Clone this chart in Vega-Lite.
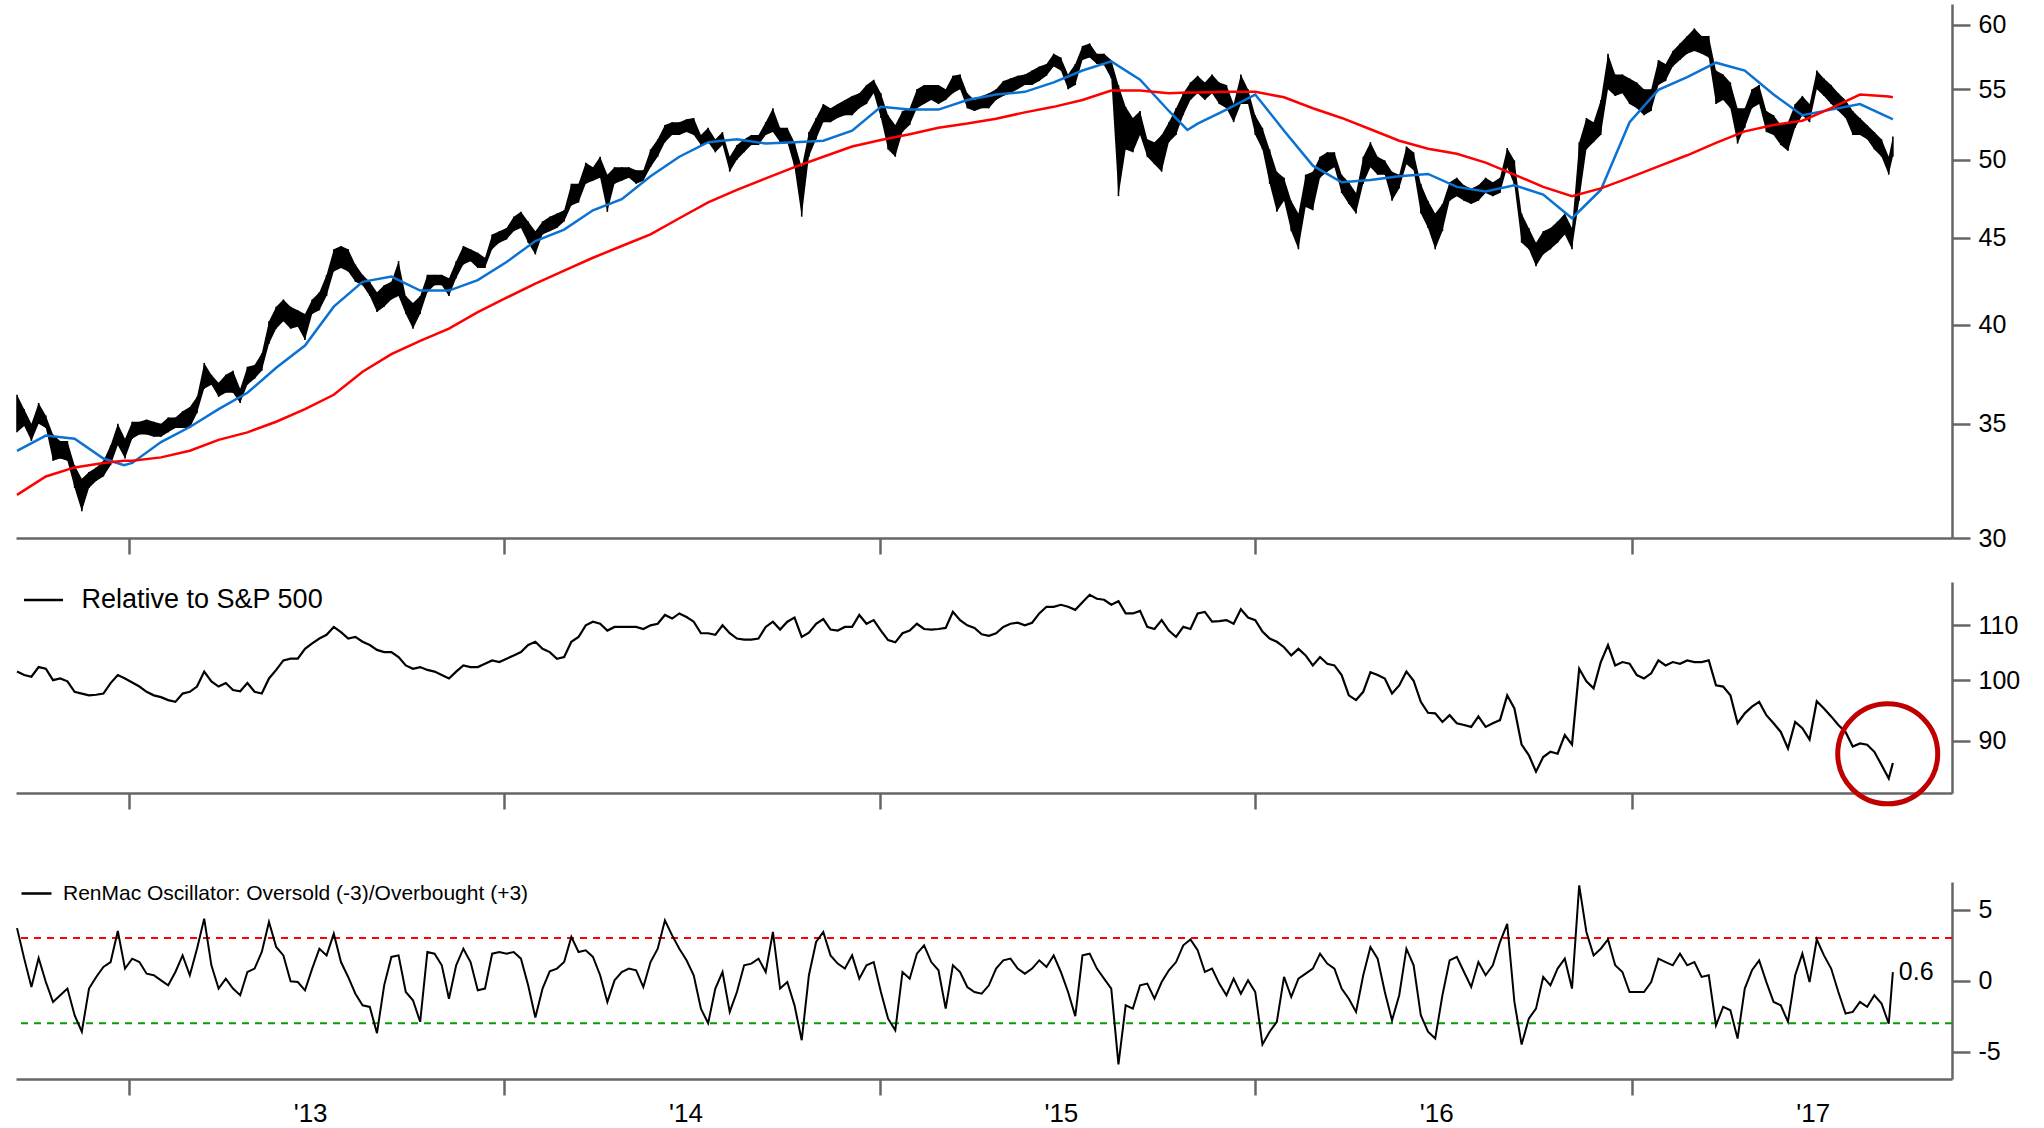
{
"$schema": "https://vega.github.io/schema/vega-lite/v6.json",
"padding": {"left": 12, "top": 4, "right": 5, "bottom": 0},
"config": {"view": {"stroke": null}, "font": "Liberation Sans",
  "axis": {"domainColor": "#666666", "domainWidth": 2.5, "tickColor": "#666666", "tickWidth": 2.5, "grid": false, "labelColor": "#000000", "labelFont": "Liberation Sans"},
  "legend": {"labelFont": "Liberation Sans"}},
"datasets": {
"w": [
{"d":"2012-09-14","l":34.6,"h":36.4,"r":101.5,"o":3.7},
{"d":"2012-09-21","l":34.9,"h":35.7,"r":100.9,"o":1.55},
{"d":"2012-09-28","l":34.2,"h":35.0,"r":100.6,"o":-0.45},
{"d":"2012-10-05","l":35.0,"h":36.0,"r":102.3,"o":1.6},
{"d":"2012-10-12","l":34.8,"h":35.4,"r":102.0,"o":-0.1},
{"d":"2012-10-19","l":33.3,"h":34.5,"r":100.0,"o":-1.5},
{"d":"2012-10-26","l":33.4,"h":34.2,"r":100.3,"o":-1.03},
{"d":"2012-11-02","l":33.3,"h":34.2,"r":99.8,"o":-0.56},
{"d":"2012-11-09","l":32.1,"h":33.1,"r":98.0,"o":-2.44},
{"d":"2012-11-16","l":31.1,"h":32.5,"r":97.7,"o":-3.6},
{"d":"2012-11-23","l":32.1,"h":32.8,"r":97.4,"o":-0.56},
{"d":"2012-11-30","l":32.4,"h":33.0,"r":97.5,"o":0.26},
{"d":"2012-12-07","l":32.6,"h":33.3,"r":97.7,"o":0.96},
{"d":"2012-12-14","l":33.1,"h":34.0,"r":99.5,"o":1.31},
{"d":"2012-12-21","l":34.0,"h":35.0,"r":100.9,"o":3.5},
{"d":"2012-12-28","l":33.4,"h":34.3,"r":100.3,"o":0.85},
{"d":"2013-01-04","l":34.3,"h":35.1,"r":99.6,"o":1.55},
{"d":"2013-01-11","l":34.5,"h":35.1,"r":98.9,"o":1.31},
{"d":"2013-01-18","l":34.5,"h":35.2,"r":98.0,"o":0.49},
{"d":"2013-01-25","l":34.4,"h":35.1,"r":97.4,"o":0.38},
{"d":"2013-02-01","l":34.4,"h":35.0,"r":97.1,"o":0.02},
{"d":"2013-02-08","l":34.6,"h":35.3,"r":96.6,"o":-0.33},
{"d":"2013-02-15","l":34.8,"h":35.3,"r":96.3,"o":0.61},
{"d":"2013-02-22","l":34.8,"h":35.6,"r":97.7,"o":1.78},
{"d":"2013-03-01","l":34.8,"h":35.8,"r":98.0,"o":0.38},
{"d":"2013-03-08","l":35.5,"h":36.3,"r":98.9,"o":2.25},
{"d":"2013-03-15","l":36.7,"h":38.0,"r":101.5,"o":4.37},
{"d":"2013-03-22","l":36.9,"h":37.4,"r":99.8,"o":1.08},
{"d":"2013-03-29","l":36.3,"h":37.0,"r":98.9,"o":-0.56},
{"d":"2013-04-05","l":36.5,"h":37.4,"r":99.5,"o":0.14},
{"d":"2013-04-12","l":36.5,"h":37.6,"r":98.3,"o":-0.56},
{"d":"2013-04-19","l":36.0,"h":36.7,"r":98.1,"o":-1.03},
{"d":"2013-04-26","l":36.9,"h":37.8,"r":99.5,"o":0.61},
{"d":"2013-05-03","l":37.2,"h":37.9,"r":98.0,"o":0.85},
{"d":"2013-05-10","l":37.6,"h":38.5,"r":97.7,"o":2.02},
{"d":"2013-05-17","l":39.0,"h":40.2,"r":100.3,"o":4.13},
{"d":"2013-05-24","l":39.8,"h":41.0,"r":101.8,"o":2.37},
{"d":"2013-05-31","l":40.2,"h":41.4,"r":103.5,"o":1.78},
{"d":"2013-06-07","l":39.8,"h":41.0,"r":103.8,"o":-0.05},
{"d":"2013-06-14","l":39.9,"h":40.8,"r":103.8,"o":-0.1},
{"d":"2013-06-21","l":39.2,"h":40.6,"r":105.6,"o":-0.68},
{"d":"2013-06-28","l":40.6,"h":41.4,"r":106.6,"o":0.85},
{"d":"2013-07-05","l":40.8,"h":41.8,"r":107.5,"o":2.25},
{"d":"2013-07-12","l":41.6,"h":42.8,"r":108.2,"o":1.78},
{"d":"2013-07-19","l":43.0,"h":44.3,"r":109.7,"o":3.31},
{"d":"2013-07-26","l":43.2,"h":44.5,"r":108.7,"o":1.31},
{"d":"2013-08-02","l":43.0,"h":44.3,"r":107.5,"o":0.26},
{"d":"2013-08-09","l":42.4,"h":43.4,"r":107.8,"o":-0.92},
{"d":"2013-08-16","l":42.2,"h":42.8,"r":106.9,"o":-1.74},
{"d":"2013-08-23","l":41.6,"h":42.4,"r":106.3,"o":-1.85},
{"d":"2013-08-30","l":40.7,"h":41.8,"r":105.4,"o":-3.7},
{"d":"2013-09-06","l":41.0,"h":42.2,"r":105.0,"o":-0.33},
{"d":"2013-09-13","l":41.4,"h":42.4,"r":105.0,"o":1.67},
{"d":"2013-09-20","l":41.6,"h":43.6,"r":104.1,"o":1.78},
{"d":"2013-09-27","l":40.6,"h":41.6,"r":102.6,"o":-0.8},
{"d":"2013-10-04","l":39.8,"h":41.2,"r":102.0,"o":-1.38},
{"d":"2013-10-11","l":40.6,"h":41.6,"r":102.3,"o":-2.9},
{"d":"2013-10-18","l":41.8,"h":42.8,"r":101.8,"o":2.02},
{"d":"2013-10-25","l":42.2,"h":42.8,"r":101.5,"o":1.9},
{"d":"2013-11-01","l":42.2,"h":42.8,"r":100.9,"o":1.08},
{"d":"2013-11-08","l":41.6,"h":42.6,"r":100.3,"o":-1.27},
{"d":"2013-11-15","l":42.6,"h":43.6,"r":101.5,"o":1.08},
{"d":"2013-11-22","l":43.4,"h":44.5,"r":102.6,"o":2.25},
{"d":"2013-11-29","l":43.6,"h":44.3,"r":102.3,"o":1.31},
{"d":"2013-12-06","l":43.2,"h":44.1,"r":102.3,"o":-0.68},
{"d":"2013-12-13","l":43.2,"h":43.8,"r":102.9,"o":-0.56},
{"d":"2013-12-20","l":44.3,"h":45.2,"r":103.5,"o":1.9},
{"d":"2013-12-27","l":44.7,"h":45.4,"r":103.2,"o":2.02},
{"d":"2014-01-03","l":44.9,"h":45.6,"r":103.8,"o":1.9},
{"d":"2014-01-10","l":45.4,"h":46.3,"r":104.4,"o":2.02},
{"d":"2014-01-17","l":45.6,"h":46.6,"r":105.0,"o":1.55},
{"d":"2014-01-24","l":44.7,"h":46.0,"r":106.3,"o":-0.33},
{"d":"2014-01-31","l":44.0,"h":45.4,"r":106.9,"o":-2.6},
{"d":"2014-02-07","l":45.2,"h":46.0,"r":105.6,"o":-0.56},
{"d":"2014-02-14","l":45.4,"h":46.3,"r":105.0,"o":0.66},
{"d":"2014-02-21","l":45.6,"h":46.5,"r":103.8,"o":0.85},
{"d":"2014-02-28","l":46.0,"h":46.7,"r":104.1,"o":1.31},
{"d":"2014-03-07","l":47.0,"h":48.4,"r":106.9,"o":3.08},
{"d":"2014-03-14","l":47.2,"h":48.4,"r":107.8,"o":2.02},
{"d":"2014-03-21","l":48.4,"h":49.8,"r":110.0,"o":2.14},
{"d":"2014-03-28","l":48.6,"h":49.5,"r":110.7,"o":1.67},
{"d":"2014-04-04","l":48.8,"h":50.2,"r":110.3,"o":0.38},
{"d":"2014-04-11","l":46.6,"h":49.0,"r":109.0,"o":-1.5},
{"d":"2014-04-18","l":48.4,"h":49.5,"r":109.7,"o":0.02},
{"d":"2014-04-25","l":48.6,"h":49.5,"r":109.7,"o":0.61},
{"d":"2014-05-02","l":48.8,"h":49.5,"r":109.7,"o":0.85},
{"d":"2014-05-09","l":48.4,"h":49.3,"r":109.7,"o":0.73},
{"d":"2014-05-16","l":48.6,"h":49.3,"r":109.3,"o":-0.45},
{"d":"2014-05-23","l":49.5,"h":50.7,"r":110.0,"o":1.31},
{"d":"2014-05-30","l":50.2,"h":51.4,"r":110.3,"o":2.25},
{"d":"2014-06-06","l":51.2,"h":52.4,"r":112.0,"o":4.25},
{"d":"2014-06-13","l":51.7,"h":52.6,"r":111.3,"o":3.19},
{"d":"2014-06-20","l":51.7,"h":52.6,"r":112.3,"o":2.25},
{"d":"2014-06-27","l":51.9,"h":52.8,"r":111.6,"o":1.43},
{"d":"2014-07-04","l":51.7,"h":52.9,"r":110.7,"o":0.38},
{"d":"2014-07-11","l":51.0,"h":51.7,"r":108.5,"o":-1.97},
{"d":"2014-07-18","l":51.2,"h":52.2,"r":108.5,"o":-3.0},
{"d":"2014-07-25","l":50.5,"h":51.4,"r":108.2,"o":-0.56},
{"d":"2014-08-01","l":51.0,"h":51.9,"r":110.0,"o":0.61},
{"d":"2014-08-08","l":49.2,"h":50.2,"r":108.5,"o":-2.2},
{"d":"2014-08-15","l":50.0,"h":51.0,"r":107.5,"o":-0.8},
{"d":"2014-08-22","l":50.5,"h":51.4,"r":107.3,"o":1.08},
{"d":"2014-08-29","l":51.0,"h":51.7,"r":107.3,"o":1.2},
{"d":"2014-09-05","l":51.0,"h":51.7,"r":107.5,"o":1.55},
{"d":"2014-09-12","l":51.7,"h":52.6,"r":109.7,"o":0.61},
{"d":"2014-09-19","l":51.9,"h":53.6,"r":110.7,"o":3.43},
{"d":"2014-09-26","l":51.2,"h":52.2,"r":109.2,"o":-0.56},
{"d":"2014-10-03","l":51.2,"h":52.2,"r":110.7,"o":-0.1},
{"d":"2014-10-10","l":49.5,"h":51.2,"r":111.5,"o":-1.74},
{"d":"2014-10-17","l":46.3,"h":49.5,"r":107.8,"o":-4.2},
{"d":"2014-10-24","l":50.2,"h":51.9,"r":108.6,"o":0.38},
{"d":"2014-10-31","l":51.4,"h":52.9,"r":110.3,"o":2.72},
{"d":"2014-11-07","l":52.6,"h":53.9,"r":111.2,"o":3.43},
{"d":"2014-11-14","l":52.6,"h":53.6,"r":109.2,"o":1.78},
{"d":"2014-11-21","l":52.9,"h":53.9,"r":109.0,"o":1.2},
{"d":"2014-11-28","l":53.1,"h":54.2,"r":109.7,"o":0.85},
{"d":"2014-12-05","l":53.1,"h":54.5,"r":109.7,"o":1.78},
{"d":"2014-12-12","l":53.6,"h":54.7,"r":112.0,"o":0.14},
{"d":"2014-12-19","l":53.9,"h":55.3,"r":110.3,"o":1.08},
{"d":"2014-12-26","l":54.7,"h":55.7,"r":111.0,"o":1.31},
{"d":"2015-01-02","l":52.9,"h":54.7,"r":109.0,"o":-0.8},
{"d":"2015-01-09","l":50.7,"h":53.1,"r":107.2,"o":-2.68},
{"d":"2015-01-16","l":50.2,"h":52.4,"r":106.8,"o":-3.5},
{"d":"2015-01-23","l":51.9,"h":53.4,"r":108.5,"o":0.61},
{"d":"2015-01-30","l":52.4,"h":53.6,"r":109.0,"o":0.14},
{"d":"2015-02-06","l":53.6,"h":55.0,"r":110.3,"o":1.9},
{"d":"2015-02-13","l":53.9,"h":55.3,"r":109.3,"o":2.49},
{"d":"2015-02-20","l":54.2,"h":55.3,"r":109.2,"o":1.31},
{"d":"2015-02-27","l":53.9,"h":55.3,"r":109.3,"o":0.73},
{"d":"2015-03-06","l":54.2,"h":55.0,"r":109.5,"o":-1.97},
{"d":"2015-03-13","l":54.7,"h":56.0,"r":112.6,"o":1.08},
{"d":"2015-03-20","l":55.0,"h":56.1,"r":111.0,"o":0.61},
{"d":"2015-03-27","l":53.6,"h":54.7,"r":110.0,"o":-0.45},
{"d":"2015-04-03","l":53.4,"h":54.2,"r":109.5,"o":-0.8},
{"d":"2015-04-10","l":53.6,"h":54.5,"r":108.3,"o":-0.92},
{"d":"2015-04-17","l":53.6,"h":54.7,"r":108.0,"o":-0.33},
{"d":"2015-04-24","l":54.2,"h":55.0,"r":108.5,"o":0.85},
{"d":"2015-05-01","l":54.5,"h":55.6,"r":109.7,"o":1.43},
{"d":"2015-05-08","l":54.7,"h":55.8,"r":110.3,"o":1.55},
{"d":"2015-05-15","l":55.0,"h":56.0,"r":110.5,"o":0.85},
{"d":"2015-05-22","l":55.3,"h":56.1,"r":110.0,"o":0.49},
{"d":"2015-05-29","l":55.3,"h":56.4,"r":110.5,"o":0.85},
{"d":"2015-06-05","l":55.6,"h":56.7,"r":112.3,"o":1.43},
{"d":"2015-06-12","l":56.0,"h":56.9,"r":113.6,"o":0.96},
{"d":"2015-06-19","l":56.7,"h":57.7,"r":113.6,"o":1.78},
{"d":"2015-06-26","l":56.4,"h":57.4,"r":114.0,"o":0.61},
{"d":"2015-07-03","l":55.0,"h":56.1,"r":113.6,"o":-0.8},
{"d":"2015-07-10","l":55.3,"h":56.9,"r":113.0,"o":-2.5},
{"d":"2015-07-17","l":57.2,"h":58.3,"r":114.5,"o":1.78},
{"d":"2015-07-24","l":57.4,"h":58.5,"r":116.0,"o":1.9},
{"d":"2015-07-31","l":56.9,"h":57.7,"r":115.2,"o":0.85},
{"d":"2015-08-07","l":56.8,"h":57.7,"r":115.0,"o":0.14},
{"d":"2015-08-14","l":55.8,"h":57.2,"r":114.0,"o":-0.56},
{"d":"2015-08-21","l":47.6,"h":55.3,"r":114.7,"o":-5.9},
{"d":"2015-08-28","l":50.7,"h":53.7,"r":112.3,"o":-1.74},
{"d":"2015-09-04","l":50.5,"h":52.9,"r":112.3,"o":-1.97},
{"d":"2015-09-11","l":51.7,"h":53.4,"r":112.8,"o":-0.33},
{"d":"2015-09-18","l":50.2,"h":51.4,"r":109.7,"o":-0.21},
{"d":"2015-09-25","l":49.7,"h":51.2,"r":109.3,"o":-1.27},
{"d":"2015-10-02","l":49.2,"h":51.7,"r":111.0,"o":-0.1},
{"d":"2015-10-09","l":51.2,"h":52.6,"r":109.0,"o":0.73},
{"d":"2015-10-16","l":51.7,"h":53.6,"r":107.8,"o":1.31},
{"d":"2015-10-23","l":53.1,"h":54.7,"r":109.7,"o":2.49},
{"d":"2015-10-30","l":54.2,"h":55.5,"r":109.3,"o":2.9},
{"d":"2015-11-06","l":54.7,"h":56.0,"r":112.3,"o":2.14},
{"d":"2015-11-13","l":54.2,"h":55.5,"r":112.6,"o":0.61},
{"d":"2015-11-20","l":54.7,"h":56.1,"r":110.7,"o":0.85},
{"d":"2015-11-27","l":53.9,"h":55.5,"r":110.8,"o":-0.21},
{"d":"2015-12-04","l":53.6,"h":55.3,"r":111.0,"o":-1.03},
{"d":"2015-12-11","l":52.6,"h":53.9,"r":110.3,"o":0.14},
{"d":"2015-12-18","l":53.9,"h":56.1,"r":113.1,"o":-0.92},
{"d":"2015-12-25","l":53.9,"h":55.0,"r":111.5,"o":0.02},
{"d":"2016-01-01","l":51.7,"h":53.1,"r":111.0,"o":-0.8},
{"d":"2016-01-08","l":50.7,"h":52.2,"r":108.8,"o":-4.5},
{"d":"2016-01-15","l":48.4,"h":50.7,"r":107.5,"o":-3.6},
{"d":"2016-01-22","l":46.6,"h":49.2,"r":106.9,"o":-2.9},
{"d":"2016-01-29","l":47.3,"h":48.8,"r":105.9,"o":0.26},
{"d":"2016-02-05","l":45.4,"h":47.3,"r":104.4,"o":-1.15},
{"d":"2016-02-12","l":44.3,"h":46.5,"r":105.6,"o":0.14},
{"d":"2016-02-19","l":46.9,"h":49.0,"r":104.4,"o":0.49},
{"d":"2016-02-26","l":46.7,"h":49.2,"r":102.6,"o":0.85},
{"d":"2016-03-04","l":48.8,"h":50.2,"r":104.1,"o":1.9},
{"d":"2016-03-11","l":49.2,"h":50.5,"r":102.9,"o":1.2},
{"d":"2016-03-18","l":49.5,"h":50.5,"r":102.6,"o":0.85},
{"d":"2016-03-25","l":47.8,"h":49.0,"r":100.9,"o":-0.56},
{"d":"2016-04-01","l":47.1,"h":48.5,"r":97.4,"o":-1.27},
{"d":"2016-04-08","l":46.5,"h":47.8,"r":96.6,"o":-2.2},
{"d":"2016-04-15","l":48.4,"h":50.2,"r":98.0,"o":0.38},
{"d":"2016-04-22","l":49.5,"h":51.2,"r":101.4,"o":2.37},
{"d":"2016-04-29","l":49.0,"h":50.2,"r":100.9,"o":1.55},
{"d":"2016-05-06","l":49.0,"h":49.95,"r":100.3,"o":-0.8},
{"d":"2016-05-13","l":47.3,"h":49.2,"r":97.7,"o":-2.8},
{"d":"2016-05-20","l":48.1,"h":49.0,"r":99.1,"o":-1.03},
{"d":"2016-05-27","l":49.7,"h":50.9,"r":101.5,"o":2.25},
{"d":"2016-06-03","l":49.3,"h":50.5,"r":99.9,"o":1.08},
{"d":"2016-06-10","l":46.5,"h":48.4,"r":96.3,"o":-2.44},
{"d":"2016-06-17","l":45.6,"h":47.3,"r":94.5,"o":-3.6},
{"d":"2016-06-24","l":44.3,"h":46.5,"r":94.4,"o":-4.08},
{"d":"2016-07-01","l":45.4,"h":47.1,"r":93.0,"o":-1.03},
{"d":"2016-07-08","l":47.3,"h":48.5,"r":94.1,"o":1.43},
{"d":"2016-07-15","l":47.6,"h":48.8,"r":92.8,"o":1.67},
{"d":"2016-07-22","l":47.3,"h":48.3,"r":92.5,"o":0.61},
{"d":"2016-07-29","l":47.1,"h":48.1,"r":92.2,"o":-0.45},
{"d":"2016-08-05","l":47.3,"h":48.3,"r":93.9,"o":1.31},
{"d":"2016-08-12","l":47.8,"h":48.8,"r":92.2,"o":0.38},
{"d":"2016-08-19","l":47.6,"h":48.5,"r":92.8,"o":1.08},
{"d":"2016-08-26","l":47.8,"h":48.8,"r":93.3,"o":2.72},
{"d":"2016-09-02","l":49.5,"h":50.8,"r":97.4,"o":4.0},
{"d":"2016-09-09","l":48.3,"h":49.95,"r":95.2,"o":-1.5},
{"d":"2016-09-16","l":44.7,"h":46.5,"r":89.4,"o":-4.5},
{"d":"2016-09-23","l":44.3,"h":45.6,"r":87.8,"o":-2.68},
{"d":"2016-09-30","l":43.3,"h":44.7,"r":85.3,"o":-1.97},
{"d":"2016-10-07","l":44.0,"h":45.4,"r":87.5,"o":0.26},
{"d":"2016-10-14","l":44.3,"h":45.6,"r":88.3,"o":-0.33},
{"d":"2016-10-21","l":44.7,"h":46.0,"r":88.0,"o":0.85},
{"d":"2016-10-28","l":45.2,"h":46.5,"r":90.9,"o":1.55},
{"d":"2016-11-04","l":44.3,"h":45.6,"r":89.4,"o":-0.56},
{"d":"2016-11-11","l":47.3,"h":51.2,"r":102.0,"o":6.71},
{"d":"2016-11-18","l":50.7,"h":52.9,"r":99.8,"o":3.43},
{"d":"2016-11-25","l":51.2,"h":52.6,"r":98.6,"o":1.78},
{"d":"2016-12-02","l":51.7,"h":54.2,"r":103.2,"o":2.25},
{"d":"2016-12-09","l":55.0,"h":57.7,"r":106.3,"o":2.9},
{"d":"2016-12-16","l":54.5,"h":56.1,"r":102.6,"o":1.08},
{"d":"2016-12-23","l":54.7,"h":56.1,"r":103.2,"o":0.61},
{"d":"2016-12-30","l":53.9,"h":55.8,"r":102.9,"o":-0.8},
{"d":"2017-01-06","l":53.6,"h":55.5,"r":100.9,"o":-0.8},
{"d":"2017-01-13","l":53.1,"h":55.0,"r":100.3,"o":-0.8},
{"d":"2017-01-20","l":53.4,"h":55.0,"r":101.2,"o":-0.1},
{"d":"2017-01-27","l":55.3,"h":57.2,"r":103.5,"o":1.55},
{"d":"2017-02-03","l":55.6,"h":56.9,"r":102.6,"o":1.31},
{"d":"2017-02-10","l":56.7,"h":57.9,"r":103.2,"o":1.08},
{"d":"2017-02-17","l":57.2,"h":58.5,"r":102.9,"o":1.9},
{"d":"2017-02-24","l":57.7,"h":59.1,"r":103.5,"o":1.08},
{"d":"2017-03-03","l":57.9,"h":59.7,"r":103.2,"o":1.31},
{"d":"2017-03-10","l":57.7,"h":59.1,"r":103.2,"o":0.26},
{"d":"2017-03-17","l":57.4,"h":59.1,"r":103.5,"o":0.38},
{"d":"2017-03-24","l":53.9,"h":56.4,"r":99.1,"o":-3.15},
{"d":"2017-03-31","l":54.2,"h":56.1,"r":98.9,"o":-1.85},
{"d":"2017-04-07","l":53.6,"h":55.5,"r":97.4,"o":-2.09},
{"d":"2017-04-14","l":51.1,"h":53.6,"r":92.8,"o":-4.08},
{"d":"2017-04-21","l":52.2,"h":53.6,"r":94.4,"o":-0.56},
{"d":"2017-04-28","l":53.6,"h":55.0,"r":95.5,"o":0.73},
{"d":"2017-05-05","l":53.9,"h":55.3,"r":96.3,"o":1.43},
{"d":"2017-05-12","l":51.9,"h":53.4,"r":94.1,"o":-0.1},
{"d":"2017-05-19","l":51.7,"h":53.1,"r":92.8,"o":-1.5},
{"d":"2017-05-26","l":51.0,"h":52.4,"r":91.4,"o":-1.74},
{"d":"2017-06-02","l":50.6,"h":52.6,"r":88.8,"o":-2.9},
{"d":"2017-06-09","l":52.2,"h":53.9,"r":93.0,"o":0.38},
{"d":"2017-06-16","l":53.1,"h":54.5,"r":92.0,"o":1.9},
{"d":"2017-06-23","l":52.6,"h":53.9,"r":90.2,"o":-0.1},
{"d":"2017-06-30","l":55.0,"h":56.4,"r":96.4,"o":2.9},
{"d":"2017-07-07","l":54.5,"h":55.8,"r":95.2,"o":1.78},
{"d":"2017-07-14","l":53.9,"h":55.3,"r":93.9,"o":0.85},
{"d":"2017-07-21","l":53.4,"h":54.7,"r":92.5,"o":-0.8},
{"d":"2017-07-28","l":52.9,"h":54.2,"r":91.4,"o":-2.32},
{"d":"2017-08-04","l":51.7,"h":53.4,"r":89.1,"o":-2.2},
{"d":"2017-08-11","l":51.7,"h":52.9,"r":89.6,"o":-1.5},
{"d":"2017-08-18","l":51.4,"h":52.4,"r":89.4,"o":-1.85},
{"d":"2017-08-25","l":50.7,"h":51.9,"r":88.3,"o":-1.03},
{"d":"2017-09-01","l":50.2,"h":51.4,"r":86.3,"o":-1.62},
{"d":"2017-09-08","l":49.0,"h":50.2,"r":84.3,"o":-3.03},
{"d":"2017-09-12","l":50.2,"h":51.6,"r":86.6,"o":0.6}
],
"ma": [
{"d":"2012-09-14","m50":33.75,"m200":31.8},
{"d":"2012-10-12","m50":34.45,"m200":32.6},
{"d":"2012-11-09","m50":34.3,"m200":33.0},
{"d":"2012-12-07","m50":33.4,"m200":33.2},
{"d":"2012-12-27","m50":33.1,"m200":33.3},
{"d":"2013-01-04","m50":33.2,"m200":33.3},
{"d":"2013-02-01","m50":34.15,"m200":33.45},
{"d":"2013-03-01","m50":34.85,"m200":33.75},
{"d":"2013-03-29","m50":35.7,"m200":34.25},
{"d":"2013-04-26","m50":36.5,"m200":34.6},
{"d":"2013-05-24","m50":37.75,"m200":35.1},
{"d":"2013-06-21","m50":38.9,"m200":35.7},
{"d":"2013-07-19","m50":41.0,"m200":36.4},
{"d":"2013-08-16","m50":42.4,"m200":37.55},
{"d":"2013-09-13","m50":42.7,"m200":38.45},
{"d":"2013-10-11","m50":41.9,"m200":39.15},
{"d":"2013-11-08","m50":41.9,"m200":39.8},
{"d":"2013-12-06","m50":42.5,"m200":40.7},
{"d":"2014-01-03","m50":43.55,"m200":41.5},
{"d":"2014-01-31","m50":44.8,"m200":42.3},
{"d":"2014-02-28","m50":45.5,"m200":43.05},
{"d":"2014-03-28","m50":46.7,"m200":43.8},
{"d":"2014-04-25","m50":47.4,"m200":44.5},
{"d":"2014-05-23","m50":48.9,"m200":45.2},
{"d":"2014-06-20","m50":50.2,"m200":46.2},
{"d":"2014-07-18","m50":51.2,"m200":47.2},
{"d":"2014-08-15","m50":51.4,"m200":48.0},
{"d":"2014-09-12","m50":51.1,"m200":48.75},
{"d":"2014-10-10","m50":51.2,"m200":49.5},
{"d":"2014-11-07","m50":51.3,"m200":50.2},
{"d":"2014-12-05","m50":52.0,"m200":50.9},
{"d":"2015-01-02","m50":53.7,"m200":51.35},
{"d":"2015-01-30","m50":53.5,"m200":51.75},
{"d":"2015-02-27","m50":53.5,"m200":52.2},
{"d":"2015-03-27","m50":54.2,"m200":52.5},
{"d":"2015-04-24","m50":54.6,"m200":52.85},
{"d":"2015-05-22","m50":54.8,"m200":53.3},
{"d":"2015-06-19","m50":55.5,"m200":53.7},
{"d":"2015-07-17","m50":56.4,"m200":54.2},
{"d":"2015-08-14","m50":57.1,"m200":54.9},
{"d":"2015-09-11","m50":55.7,"m200":54.9},
{"d":"2015-10-09","m50":53.4,"m200":54.7},
{"d":"2015-10-27","m50":52.05,"m200":54.75},
{"d":"2015-11-06","m50":52.5,"m200":54.75},
{"d":"2015-12-04","m50":53.5,"m200":54.8},
{"d":"2016-01-01","m50":54.6,"m200":54.8},
{"d":"2016-01-29","m50":52.0,"m200":54.4},
{"d":"2016-02-26","m50":49.6,"m200":53.6},
{"d":"2016-03-25","m50":48.5,"m200":52.9},
{"d":"2016-04-22","m50":48.65,"m200":52.1},
{"d":"2016-05-20","m50":48.9,"m200":51.3},
{"d":"2016-06-17","m50":49.05,"m200":50.75},
{"d":"2016-07-15","m50":48.2,"m200":50.4},
{"d":"2016-08-12","m50":47.9,"m200":49.8},
{"d":"2016-09-09","m50":48.3,"m200":49.0},
{"d":"2016-10-07","m50":47.7,"m200":48.2},
{"d":"2016-11-04","m50":46.2,"m200":47.6},
{"d":"2016-12-02","m50":48.0,"m200":48.1},
{"d":"2016-12-30","m50":52.6,"m200":48.8},
{"d":"2017-01-27","m50":54.95,"m200":49.55},
{"d":"2017-02-24","m50":55.9,"m200":50.3},
{"d":"2017-03-24","m50":57.0,"m200":51.15},
{"d":"2017-04-21","m50":56.4,"m200":51.95},
{"d":"2017-05-19","m50":54.6,"m200":52.4},
{"d":"2017-06-16","m50":53.1,"m200":52.7},
{"d":"2017-07-14","m50":53.5,"m200":53.6},
{"d":"2017-08-11","m50":53.9,"m200":54.6},
{"d":"2017-09-08","m50":52.95,"m200":54.45},
{"d":"2017-09-12","m50":52.8,"m200":54.4}
],
"ann": [{"d":"2017-09-07","v":88}],
"lastpt": [{"d":"2017-09-12","o":0.6}],
"ob": [{"t":3}],
"os": [{"t":-3}]
},
"resolve": {"scale": {"stroke": "independent"}, "legend": {"stroke": "independent"}},
"spacing": 63,
"vconcat": [
{
"resolve": {"scale": {"stroke": "independent"}, "legend": {"stroke": "independent"}},
"spacing": 23,
"vconcat": [
{
"width": 1936, "height": 534,
"layer": [
{"data": {"name": "w"}, "mark": {"type": "area", "color": "#000000"},
 "encoding": {
  "x": {"field": "d", "type": "temporal", "scale": {"type": "utc", "nice": false, "domain": [{"year": 2012, "month": 9, "date": 13, "utc": true}, {"year": 2017, "month": 11, "date": 8, "hours": 12, "utc": true}]},
        "axis": {"title": null, "labels": false, "tickSize": 16, "values": [{"year": 2013, "month": 1, "date": 1, "utc": true}, {"year": 2014, "month": 1, "date": 1, "utc": true}, {"year": 2015, "month": 1, "date": 1, "utc": true}, {"year": 2016, "month": 1, "date": 1, "utc": true}, {"year": 2017, "month": 1, "date": 1, "utc": true}]}},
  "y": {"field": "l", "type": "quantitative", "scale": {"type": "log", "domain": [30, 61.7], "nice": false},
        "axis": {"orient": "right", "title": null, "values": [30, 35, 40, 45, 50, 55, 60], "tickSize": 18, "labelPadding": 8, "labelFontSize": 25, "labelExpr": "toString(datum.value)"}},
  "y2": {"field": "h"}}},
{"data": {"name": "w"}, "mark": {"type": "rule", "color": "#000000", "strokeWidth": 1.6},
 "encoding": {
  "x": {"field": "d", "type": "temporal"},
  "y": {"field": "l", "type": "quantitative", "scale": {"type": "log", "domain": [30, 61.7], "nice": false}},
  "y2": {"field": "h"}}},
{"data": {"name": "ma"}, "mark": {"type": "line", "color": "#0b72d1", "strokeWidth": 2.5},
 "encoding": {
  "x": {"field": "d", "type": "temporal"},
  "y": {"field": "m50", "type": "quantitative", "scale": {"type": "log", "domain": [30, 61.7], "nice": false}}}},
{"data": {"name": "ma"}, "mark": {"type": "line", "color": "#ff0000", "strokeWidth": 2.5},
 "encoding": {
  "x": {"field": "d", "type": "temporal"},
  "y": {"field": "m200", "type": "quantitative", "scale": {"type": "log", "domain": [30, 61.7], "nice": false}}}}
]
},
{
"width": 1936, "height": 211,
"layer": [
{"data": {"name": "w"}, "mark": {"type": "line", "strokeWidth": 2.2},
 "encoding": {
  "x": {"field": "d", "type": "temporal", "scale": {"type": "utc", "nice": false, "domain": [{"year": 2012, "month": 9, "date": 13, "utc": true}, {"year": 2017, "month": 11, "date": 8, "hours": 12, "utc": true}]},
        "axis": {"title": null, "labels": false, "tickSize": 16, "values": [{"year": 2013, "month": 1, "date": 1, "utc": true}, {"year": 2014, "month": 1, "date": 1, "utc": true}, {"year": 2015, "month": 1, "date": 1, "utc": true}, {"year": 2016, "month": 1, "date": 1, "utc": true}, {"year": 2017, "month": 1, "date": 1, "utc": true}]}},
  "y": {"field": "r", "type": "quantitative", "scale": {"type": "log", "domain": [82.2, 118.6], "nice": false},
        "axis": {"orient": "right", "title": null, "values": [90, 100, 110], "tickSize": 18, "labelPadding": 8, "labelFontSize": 25, "labelExpr": "toString(datum.value)"}},
  "stroke": {"datum": "Relative to S&P 500", "type": "nominal", "scale": {"range": ["#000000"]},
        "legend": {"orient": "none", "legendX": 6.5, "legendY": -3, "title": null, "padding": 0, "symbolType": "stroke", "symbolSize": 1521, "symbolStrokeWidth": 2.5, "labelFontSize": 27, "labelOffset": 17, "labelColor": "#000000", "labelLimit": 0}}}},
{"data": {"name": "ann"}, "mark": {"type": "point", "shape": "circle", "size": 10000, "filled": false, "strokeWidth": 5, "color": "#c00000", "opacity": 1},
 "encoding": {
  "x": {"field": "d", "type": "temporal"},
  "y": {"field": "v", "type": "quantitative", "scale": {"type": "log", "domain": [82.2, 118.6], "nice": false}}}}
]
}
]
},
{
"width": 1936, "height": 197,
"layer": [
{"data": {"name": "ob"}, "mark": {"type": "rule", "color": "#ff0000", "strokeWidth": 2, "strokeDash": [7, 6]},
 "encoding": {"y": {"field": "t", "type": "quantitative", "scale": {"domain": [-6.93, 6.95], "nice": false, "zero": false},
   "axis": {"orient": "right", "title": null, "values": [-5, 0, 5], "tickSize": 18, "labelPadding": 8, "labelFontSize": 25, "labelExpr": "toString(datum.value)"}}}},
{"data": {"name": "os"}, "mark": {"type": "rule", "color": "#00a000", "strokeWidth": 2, "strokeDash": [7, 6]},
 "encoding": {"y": {"field": "t", "type": "quantitative", "scale": {"domain": [-6.93, 6.95], "nice": false, "zero": false}}}},
{"data": {"name": "w"}, "mark": {"type": "line", "strokeWidth": 2},
 "encoding": {
  "x": {"field": "d", "type": "temporal", "scale": {"type": "utc", "nice": false, "domain": [{"year": 2012, "month": 9, "date": 13, "utc": true}, {"year": 2017, "month": 11, "date": 8, "hours": 12, "utc": true}]},
        "axis": {"title": null, "labels": true, "tickSize": 16, "labelExpr": "\"'\" + utcFormat(datum.value, '%y')", "labelOffset": 181, "labelPadding": 5, "labelFontSize": 26, "labelOverlap": false, "labelFlush": false, "labelBound": false, "values": [{"year": 2013, "month": 1, "date": 1, "utc": true}, {"year": 2014, "month": 1, "date": 1, "utc": true}, {"year": 2015, "month": 1, "date": 1, "utc": true}, {"year": 2016, "month": 1, "date": 1, "utc": true}, {"year": 2017, "month": 1, "date": 1, "utc": true}]}},
  "y": {"field": "o", "type": "quantitative", "scale": {"domain": [-6.93, 6.95], "nice": false, "zero": false}},
  "stroke": {"datum": "RenMac Oscillator: Oversold (-3)/Overbought (+3)", "type": "nominal", "scale": {"range": ["#000000"]},
        "legend": {"orient": "none", "legendX": 4, "legendY": -5, "title": null, "padding": 0, "symbolType": "stroke", "symbolSize": 900, "symbolStrokeWidth": 2.5, "labelFontSize": 21, "labelOffset": 10, "labelColor": "#000000", "labelLimit": 0}}}},
{"data": {"name": "lastpt"}, "mark": {"type": "text", "align": "left", "baseline": "middle", "dx": 6, "fontSize": 25, "color": "#000000"},
 "encoding": {
  "x": {"field": "d", "type": "temporal"},
  "y": {"field": "o", "type": "quantitative", "scale": {"domain": [-6.93, 6.95], "nice": false, "zero": false}},
  "text": {"field": "o", "type": "quantitative"}}}
]
}
]
}
